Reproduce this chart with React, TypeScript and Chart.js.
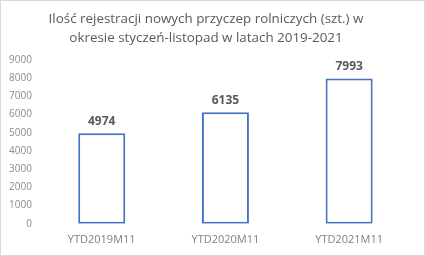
import React, { useEffect, useRef } from "react";
import { Chart, registerables } from "chart.js";

Chart.register(...registerables);

const titleLines = [
  "Ilość rejestracji nowych przyczep rolniczych (szt.) w",
  "okresie styczeń-listopad w latach 2019-2021",
];
const categories = ["YTD2019M11", "YTD2020M11", "YTD2021M11"];
const values = [4974, 6135, 7993];
const yMax = 9000;
const yStep = 1000;

const labelPlugin = {
  id: "barLabels",
  afterDatasetsDraw(chart: any) {
    const ctx = chart.ctx;
    const meta = chart.getDatasetMeta(0);
    ctx.save();
    ctx.font = "bold 12px 'Open Sans'";
    ctx.fillStyle = "#595959";
    ctx.textAlign = "center";
    ctx.textBaseline = "middle";
    meta.data.forEach((el: any, i: number) => {
      ctx.fillText(String(values[i]), el.x, el.y - 12);
    });
    ctx.restore();
  },
};

export default function App() {
  const ref = useRef<HTMLCanvasElement>(null);
  useEffect(() => {
    document.body.style.margin = "0";
    const chart = new Chart(ref.current!, {
      type: "bar",
      data: {
        labels: categories,
        datasets: [
          {
            data: values,
            backgroundColor: "#ffffff",
            borderColor: "#4472C4",
            borderWidth: 2,
            borderSkipped: false,
            barPercentage: 0.38,
            categoryPercentage: 1,
          },
        ],
      },
      options: {
        animation: false,
        responsive: false,
        devicePixelRatio: 1,
        layout: { padding: { left: 0, right: 13, top: 0, bottom: 0 } },
        plugins: {
          legend: { display: false },
          tooltip: { enabled: false },
          title: {
            display: true,
            text: titleLines,
            color: "#595959",
            font: { family: "'Open Sans'", size: 13.4, weight: "normal", lineHeight: 1.42 },
            padding: { top: 8.5, bottom: 12.5 },
          },
        },
        scales: {
          x: {
            grid: { display: false, drawTicks: false },
            border: { display: false },
            ticks: { color: "#7f7f7f", font: { family: "'Open Sans'", size: 11 }, padding: 9 },
          },
          y: {
            min: 0,
            max: yMax,
            grid: { display: false, drawTicks: false },
            border: { display: false },
            ticks: {
              stepSize: yStep,
              color: "#8c8c8c",
              font: { family: "'Open Sans'", size: 10 },
              padding: 8,
              callback: (v: any) => String(v),
            },
          },
        },
      },
      plugins: [labelPlugin],
    });
    return () => chart.destroy();
  }, []);
  return (
    <div
      style={{
        position: "absolute",
        left: 0,
        top: 0,
        width: 425,
        height: 256,
        boxSizing: "border-box",
        border: "1px solid #d9d9d9",
        background: "#fff",
      }}
    >
      <canvas ref={ref} width={423} height={254} style={{ display: "block" }} />
    </div>
  );
}
